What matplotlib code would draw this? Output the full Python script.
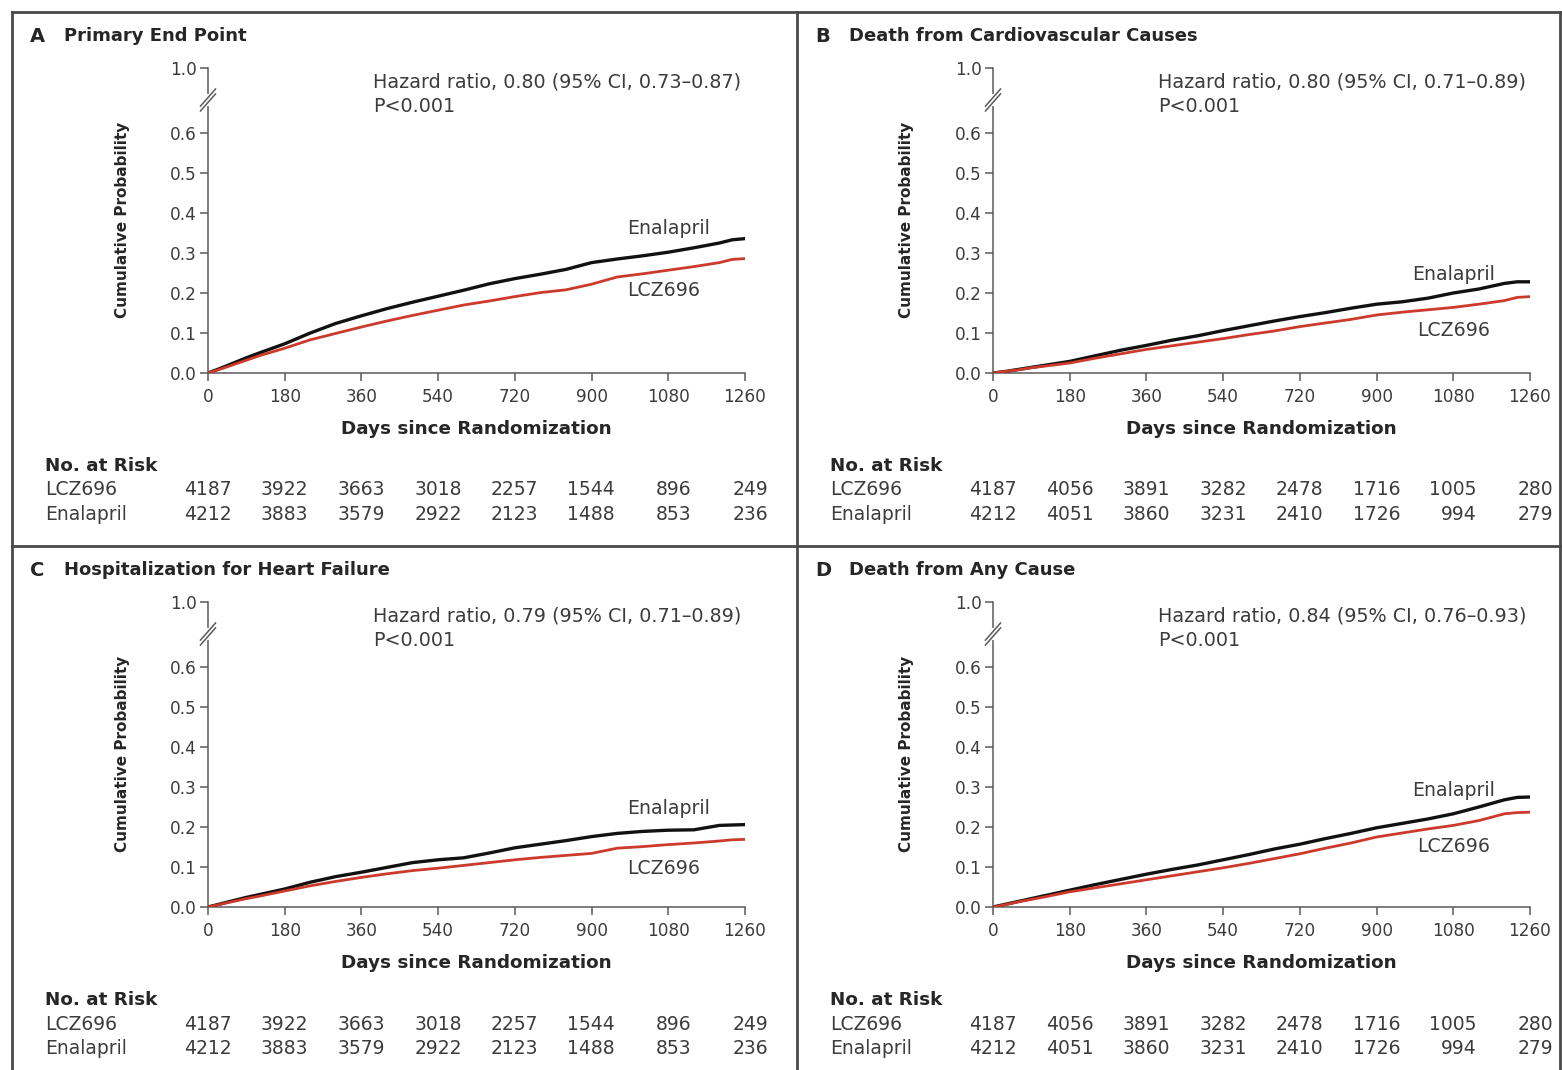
import numpy as np
import matplotlib
matplotlib.use("Agg")
import matplotlib.pyplot as plt
from matplotlib.lines import Line2D
from matplotlib.transforms import ScaledTranslation, blended_transform_factory

plt.rcParams['font.family'] = ['DejaVu Sans']

W, H = 1562, 1070

# --- data ---
days = [0, 30, 60, 90, 120, 180, 240, 300, 360, 420, 480, 540, 600, 660,
        720, 780, 840, 900, 960, 1020, 1080, 1140, 1200, 1230, 1260]

enal_a = [0, 0.012, 0.025, 0.038, 0.050, 0.073, 0.100, 0.124, 0.143, 0.161,
          0.177, 0.192, 0.207, 0.223, 0.236, 0.247, 0.259, 0.276, 0.285,
          0.293, 0.302, 0.313, 0.325, 0.333, 0.336]
lcz_a = [0, 0.010, 0.021, 0.032, 0.043, 0.062, 0.083, 0.099, 0.115, 0.130,
         0.144, 0.157, 0.170, 0.180, 0.191, 0.201, 0.208, 0.222, 0.240,
         0.248, 0.257, 0.266, 0.276, 0.284, 0.286]

enal_b = [0, 0.004, 0.009, 0.014, 0.019, 0.029, 0.043, 0.057, 0.069, 0.082,
          0.093, 0.106, 0.118, 0.130, 0.141, 0.151, 0.162, 0.172, 0.178,
          0.187, 0.200, 0.210, 0.224, 0.228, 0.228]
lcz_b = [0, 0.004, 0.008, 0.013, 0.017, 0.025, 0.037, 0.048, 0.059, 0.068,
         0.077, 0.086, 0.096, 0.105, 0.116, 0.125, 0.134, 0.145, 0.152,
         0.158, 0.164, 0.172, 0.181, 0.189, 0.191]

enal_c = [0, 0.008, 0.016, 0.024, 0.031, 0.045, 0.062, 0.076, 0.087, 0.099,
          0.111, 0.118, 0.123, 0.135, 0.148, 0.157, 0.166, 0.176, 0.184,
          0.189, 0.192, 0.193, 0.204, 0.205, 0.206]
lcz_c = [0, 0.007, 0.014, 0.021, 0.027, 0.040, 0.053, 0.064, 0.074, 0.083,
         0.091, 0.097, 0.104, 0.111, 0.118, 0.124, 0.129, 0.134, 0.147,
         0.151, 0.156, 0.160, 0.165, 0.168, 0.169]

enal_d = [0, 0.007, 0.014, 0.021, 0.028, 0.042, 0.056, 0.069, 0.082, 0.094,
          0.105, 0.118, 0.131, 0.145, 0.157, 0.171, 0.184, 0.198, 0.209,
          0.220, 0.233, 0.250, 0.268, 0.274, 0.275]
lcz_d = [0, 0.006, 0.013, 0.019, 0.025, 0.038, 0.048, 0.058, 0.068, 0.078,
         0.088, 0.098, 0.109, 0.121, 0.133, 0.147, 0.160, 0.175, 0.185,
         0.195, 0.204, 0.216, 0.233, 0.236, 0.237]

risk_days = [0, 180, 360, 540, 720, 900, 1080, 1260]
risk_lcz_ac = [4187, 3922, 3663, 3018, 2257, 1544, 896, 249]
risk_enal_ac = [4212, 3883, 3579, 2922, 2123, 1488, 853, 236]
risk_lcz_bd = [4187, 4056, 3891, 3282, 2478, 1716, 1005, 280]
risk_enal_bd = [4212, 4051, 3860, 3231, 2410, 1726, 994, 279]

letters = ['A', 'B', 'C', 'D']
titles = ['Primary End Point', 'Death from Cardiovascular Causes',
          'Hospitalization for Heart Failure', 'Death from Any Cause']
hazard = ['Hazard ratio, 0.80 (95% CI, 0.73\u20130.87)',
          'Hazard ratio, 0.80 (95% CI, 0.71\u20130.89)',
          'Hazard ratio, 0.79 (95% CI, 0.71\u20130.89)',
          'Hazard ratio, 0.84 (95% CI, 0.76\u20130.93)']
enal_curves = [enal_a, enal_b, enal_c, enal_d]
lcz_curves = [lcz_a, lcz_b, lcz_c, lcz_d]
risk_lcz = [risk_lcz_ac, risk_lcz_bd, risk_lcz_ac, risk_lcz_bd]
risk_enal = [risk_enal_ac, risk_enal_bd, risk_enal_ac, risk_enal_bd]
# label positions (day, prob) for curve names
enal_lab = [(983, 0.36), (983, 0.247), (983, 0.247), (983, 0.292)]
lcz_lab = [(983, 0.207), (995, 0.105), (983, 0.097), (995, 0.15)]

yticks = [0, 0.1, 0.2, 0.3, 0.4, 0.5, 0.6]
ytop = 0.7625          # where the "1.0" tick sits on the broken axis
xticks = [0, 180, 360, 540, 720, 900, 1080, 1260]

BLACK = '#111111'
RED = '#cc3a2c'
TXT = '#3c3c3c'
DARK = '#262626'
GREY = '#5a5a5a'

fig = plt.figure(figsize=(W / 100, H / 100), dpi=100)


def fx(px):
    return px / W


def fy(py):
    return 1 - py / H


# panel frames
frame = dict(color='#4a4a4a', lw=2.0)
for xs, ys in [((12, 1560), (12, 12)), ((12, 12), (12, H)),
               ((1560, 1560), (12, H)), ((797, 797), (12, H)),
               ((12, 1560), (546, 546))]:
    fig.add_artist(Line2D([fx(xs[0]), fx(xs[1])], [fy(ys[0]), fy(ys[1])], **frame))

# origin of each panel's axes in px: (x0, x1, y_zero)
panels = [(208, 745, 373), (993, 1530, 373), (208, 745, 907), (993, 1530, 907)]
yscale = 400  # px per 1.0 probability

for i, (x0, x1, yz) in enumerate(panels):
    ytp = yz - ytop * yscale
    ax = fig.add_axes([fx(x0), fy(yz), fx(x1 - x0), (yz - ytp) / H])
    ax.set_xlim(0, 1260)
    ax.set_ylim(0, ytop)
    for s in ('top', 'right'):
        ax.spines[s].set_visible(False)
    for s in ('left', 'bottom'):
        ax.spines[s].set_color(GREY)
        ax.spines[s].set_linewidth(1.1)
    ax.set_xticks(xticks)
    ax.set_xticklabels([str(d) for d in xticks])
    ax.set_yticks(yticks + [ytop])
    ax.set_yticklabels(['%.1f' % v for v in yticks] + ['1.0'])
    ax.tick_params(colors=GREY, labelcolor=TXT, labelsize=12.2, length=6, width=1.1)
    ax.tick_params(axis='x', pad=5)
    ax.tick_params(axis='y', pad=2)
    ax.patch.set_alpha(0)

    # axis break marks
    yb = 0.6825 / ytop
    ax.plot([0, 0], [yb - 0.012, yb + 0.012], transform=ax.transAxes,
            color='white', lw=3, clip_on=False, zorder=5)
    for off in (-0.008, 0.008):
        ax.plot([-0.014, 0.014], [yb + off - 0.028, yb + off + 0.028],
                transform=ax.transAxes, color=GREY, lw=1.1, clip_on=False, zorder=6)

    ax.plot(days, enal_curves[i], color=BLACK, lw=2.4, zorder=3)
    ax.plot(days, lcz_curves[i], color=RED, lw=2.0, zorder=4)

    ax.text(*enal_lab[i], 'Enalapril', color=TXT, fontsize=13.6, va='center')
    ax.text(*lcz_lab[i], 'LCZ696', color=TXT, fontsize=13.6, va='center')
    ax.text(387, 0.7275, hazard[i], color=TXT, fontsize=13.8, va='center')
    ax.text(387, 0.6675, 'P<0.001', color=TXT, fontsize=13.8, va='center')

    # titles and axis labels
    px0 = 30 if x0 < 500 else 815
    fig.text(fx(px0), fy(yz - 337), letters[i], fontsize=14, fontweight='bold',
             color=DARK, va='center')
    fig.text(fx(px0 + 34), fy(yz - 337), titles[i], fontsize=13,
             fontweight='bold', color=DARK, va='center')
    fig.text(fx(x0 - 86), fy(yz - 153), 'Cumulative Probability', rotation=90,
             fontsize=11, fontweight='bold', color=DARK, ha='center', va='center')
    fig.text(fx((x0 + x1) / 2), fy(yz + 56), 'Days since Randomization',
             fontsize=13.2, fontweight='bold', color=DARK, ha='center', va='center')

    # number at risk table
    fig.text(fx(px0 + 15), fy(yz + 93), 'No. at Risk', fontsize=13.2,
             fontweight='bold', color=DARK, va='center')
    fig.text(fx(px0 + 15), fy(yz + 117), 'LCZ696', fontsize=13.5,
             color=TXT, va='center')
    fig.text(fx(px0 + 15), fy(yz + 141), 'Enalapril', fontsize=13.5,
             color=TXT, va='center')
    tr = blended_transform_factory(ax.transData, fig.transFigure) + \
        ScaledTranslation(0.235, 0, fig.dpi_scale_trans)
    for d, a, b in zip(risk_days, risk_lcz[i], risk_enal[i]):
        ax.text(d, fy(yz + 117), str(a), transform=tr, ha='right', va='center',
                fontsize=13.5, color=TXT, clip_on=False)
        ax.text(d, fy(yz + 141), str(b), transform=tr, ha='right', va='center',
                fontsize=13.5, color=TXT, clip_on=False)

fig.savefig('out.png', dpi=100, facecolor='white')
